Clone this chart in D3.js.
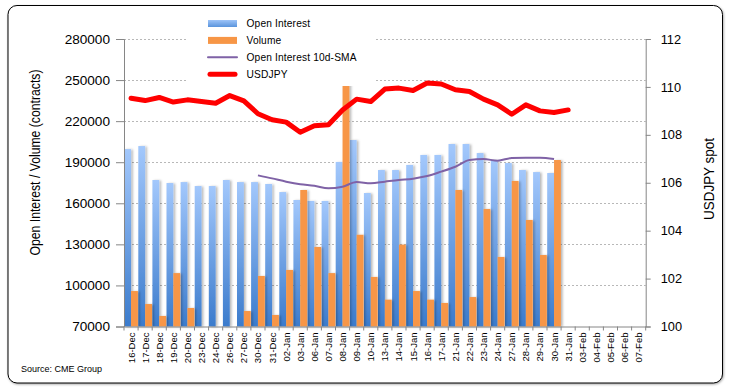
<!DOCTYPE html>
<html>
<head>
<meta charset="utf-8">
<script src="https://cdn.jsdelivr.net/npm/d3@7"></script>
<style>
  html, body { margin: 0; padding: 0; background: #fff; }
  svg { display: block; font-family: "Liberation Sans", Arial, sans-serif; }
  .grid line { stroke: #b8b8b8; stroke-dasharray: 2 2; }
  .axis path, .axis line { stroke: #868686; }
  .axis text { fill: #000; }
</style>
</head>
<body>
<svg id="chart" width="730" height="392"></svg>
<script>
// trading days on the category axis
const dates = ["16-Dec", "17-Dec", "18-Dec", "19-Dec", "20-Dec", "23-Dec", "24-Dec", "26-Dec", "27-Dec", "30-Dec", "31-Dec",
  "02-Jan", "03-Jan", "06-Jan", "07-Jan", "08-Jan", "09-Jan", "10-Jan", "13-Jan", "14-Jan", "15-Jan", "16-Jan", "17-Jan",
  "21-Jan", "22-Jan", "23-Jan", "24-Jan", "27-Jan", "28-Jan", "29-Jan", "30-Jan", "31-Jan",
  "03-Feb", "04-Feb", "05-Feb", "06-Feb", "07-Feb"];

// contracts, 16-Dec .. 30-Jan
const openInterest = [199600, 201800, 177000, 174800, 175500, 172600, 172600, 177000, 175500, 175500, 174100,
  168200, 162400, 161700, 161700, 190200, 206200, 167500, 184300, 184300, 188000, 195300, 195300,
  203300, 203300, 196700, 191600, 189400, 184300, 182800, 182100];
// volume below the axis floor on the holiday days
const volume = [95900, 86400, 77700, 109000, 83500, null, null, null, 81300, 106900, 78400,
  111300, 169700, 128100, 109000, 248000, 137000, 106200, 89600, 129800, 95900, 89600, 87200,
  169700, 91500, 155800, 120800, 176300, 147800, 122200, 191600];
// 10-day SMA of open interest, from 30-Dec
const smaStart = 9;
const oiSma = [180400, 178200, 175800, 173900, 172800, 170900, 172100, 175500, 174600, 175800, 177000,
  178000, 179900, 183100, 186700, 191600, 192300, 191100, 193100, 193300, 193300, 192300];
// spot, 16-Dec .. 31-Jan
const usdjpy = [109.53, 109.43, 109.56, 109.37, 109.46, 109.39, 109.32, 109.64, 109.42, 108.88, 108.63,
  108.53, 108.11, 108.38, 108.42, 109.04, 109.49, 109.39, 109.91, 109.95, 109.85, 110.16, 110.12,
  109.88, 109.81, 109.49, 109.25, 108.86, 109.25, 109.0, 108.93, 109.04];

const leftTicks = [70000, 100000, 130000, 160000, 190000, 220000, 250000, 280000];
const rightTicks = [100, 102, 104, 106, 108, 110, 112];

const svg = d3.select("#chart");
const plot = { left: 124, right: 645.7, top: 39, bottom: 326.5 };

const defs = svg.append("defs");
const grad = defs.append("linearGradient")
  .attr("id", "oiGrad")
  .attr("x1", 0).attr("y1", 0).attr("x2", 0).attr("y2", 1);
grad.append("stop").attr("offset", "0%").attr("stop-color", "#a3c8fc");
grad.append("stop").attr("offset", "100%").attr("stop-color", "#3b7bcc");

const shadow = defs.append("filter").attr("id", "shadow")
  .attr("x", "-50%").attr("y", "-10%").attr("width", "200%").attr("height", "120%");
shadow.append("feDropShadow")
  .attr("dx", 1.8).attr("dy", 0.5).attr("stdDeviation", 0.9)
  .attr("flood-color", "#000").attr("flood-opacity", 0.28);

const frameShadow = defs.append("filter").attr("id", "frameShadow");
frameShadow.append("feDropShadow")
  .attr("dx", 0.8).attr("dy", 1).attr("stdDeviation", 0.8)
  .attr("flood-color", "#000").attr("flood-opacity", 0.35);

// outer frame
svg.append("rect")
  .attr("x", 8).attr("y", 5.5)
  .attr("width", 714.5).attr("height", 377.5)
  .attr("rx", 9)
  .attr("fill", "#fff")
  .attr("stroke", "#000")
  .attr("stroke-width", 1)
  .attr("filter", "url(#frameShadow)");

// scales
const x = d3.scaleBand().domain(dates).range([plot.left, plot.right]);
const sub = d3.scaleBand().domain(["oi", "vol"]).range([0, x.bandwidth()]).paddingOuter(0.03);
const yLeft = d3.scaleLinear().domain([70000, 280000]).range([plot.bottom, plot.top]).clamp(true);
const yRight = d3.scaleLinear().domain([100, 112]).range([plot.bottom, plot.top]);

// gridlines
svg.append("g").attr("class", "grid")
  .selectAll("line")
  .data(leftTicks.slice(1))
  .join("line")
  .attr("x1", plot.left).attr("x2", plot.right)
  .attr("y1", d => Math.round(yLeft(d)) + 0.5)
  .attr("y2", d => Math.round(yLeft(d)) + 0.5);

// bars
const oiData = openInterest.map((v, i) => ({ d: dates[i], v }));
const volData = volume.map((v, i) => ({ d: dates[i], v })).filter(o => o.v !== null);

svg.append("g")
  .attr("filter", "url(#shadow)")
  .selectAll("rect")
  .data(oiData)
  .join("rect")
  .attr("x", o => x(o.d) + sub("oi"))
  .attr("width", sub.bandwidth())
  .attr("y", o => yLeft(o.v))
  .attr("height", o => plot.bottom - yLeft(o.v))
  .attr("fill", "url(#oiGrad)");

svg.append("g")
  .attr("filter", "url(#shadow)")
  .selectAll("rect")
  .data(volData)
  .join("rect")
  .attr("x", o => x(o.d) + sub("vol"))
  .attr("width", sub.bandwidth())
  .attr("y", o => yLeft(o.v))
  .attr("height", o => plot.bottom - yLeft(o.v))
  .attr("fill", "#f79646");

// lines
const cx = d => x(d) + x.bandwidth() / 2;

svg.append("path")
  .datum(oiSma.map((v, i) => ({ d: dates[smaStart + i], v })))
  .attr("fill", "none")
  .attr("stroke", "#7f62a6")
  .attr("stroke-width", 2)
  .attr("stroke-linejoin", "round")
  .attr("d", d3.line().x(o => cx(o.d)).y(o => yLeft(o.v)).curve(d3.curveMonotoneX));

svg.append("path")
  .datum(usdjpy.map((v, i) => ({ d: dates[i], v })))
  .attr("fill", "none")
  .attr("stroke", "#ff0000")
  .attr("stroke-width", 5)
  .attr("stroke-linejoin", "round")
  .attr("stroke-linecap", "round")
  .attr("d", d3.line().x(o => cx(o.d)).y(o => yRight(o.v)));

// axes
const gl = svg.append("g").attr("class", "axis")
  .attr("transform", `translate(${plot.left},0)`)
  .call(d3.axisLeft(yLeft).tickValues(leftTicks).tickSize(8).tickPadding(6).tickFormat(d3.format("d")));
gl.selectAll("text").attr("font-size", 13.6).attr("font-family", "Liberation Sans");

const gr = svg.append("g").attr("class", "axis")
  .attr("transform", `translate(${plot.right},0)`)
  .call(d3.axisRight(yRight).tickValues(rightTicks).tickSize(5).tickPadding(10));
gr.selectAll("text").attr("font-size", 12.8).attr("font-family", "Liberation Sans");

const gx = svg.append("g").attr("class", "axis")
  .attr("transform", `translate(0,${plot.bottom})`)
  .call(d3.axisBottom(x).tickSize(0).tickPadding(0));
gx.selectAll(".tick text")
  .attr("font-size", 9.5)
  .attr("text-anchor", "end")
  .attr("dy", null)
  .attr("transform", "translate(3.5,6) rotate(-90)");
// tick marks between categories
gx.selectAll(".sep")
  .data(dates.concat([null]))
  .join("line")
  .attr("class", "sep")
  .attr("x1", (d, i) => plot.left + i * x.step())
  .attr("x2", (d, i) => plot.left + i * x.step())
  .attr("y1", 0).attr("y2", 4);

// axis titles
svg.append("text")
  .attr("transform", `translate(40,162.5) rotate(-90)`)
  .attr("text-anchor", "middle")
  .attr("font-size", 14)
  .attr("textLength", 186)
  .attr("lengthAdjust", "spacingAndGlyphs")
  .text("Open Interest / Volume (contracts)");

svg.append("text")
  .attr("transform", `translate(714,179) rotate(-90)`)
  .attr("text-anchor", "middle")
  .attr("font-size", 14)
  .attr("textLength", 82)
  .attr("lengthAdjust", "spacingAndGlyphs")
  .text("USDJPY spot");

// legend
const legendItems = [
  { name: "Open Interest", type: "bar", color: "url(#legGrad)" },
  { name: "Volume", type: "bar", color: "#f79646" },
  { name: "Open Interest 10d-SMA", type: "line", color: "#7f62a6", w: 2 },
  { name: "USDJPY", type: "line", color: "#ff0000", w: 5 }
];
const lg = defs.append("linearGradient").attr("id", "legGrad")
  .attr("x1", 0).attr("y1", 0).attr("x2", 0).attr("y2", 1);
lg.append("stop").attr("offset", "0%").attr("stop-color", "#9ec4f8");
lg.append("stop").attr("offset", "100%").attr("stop-color", "#5a94dc");

const legend = svg.append("g");
legend.append("rect")
  .attr("x", 188).attr("y", 12).attr("width", 188).attr("height", 74)
  .attr("fill", "#fff");
const li = legend.selectAll("g.item")
  .data(legendItems)
  .join("g")
  .attr("class", "item")
  .attr("transform", (d, i) => `translate(208,${23.5 + i * 16.9})`);
li.filter(d => d.type === "bar").append("rect")
  .attr("x", 0).attr("y", -3.5).attr("width", 29).attr("height", 7)
  .attr("fill", d => d.color);
li.filter(d => d.type === "line").append("line")
  .attr("x1", d => d.w > 3 ? 2 : 0).attr("x2", d => d.w > 3 ? 27 : 29)
  .attr("stroke", d => d.color)
  .attr("stroke-width", d => d.w)
  .attr("stroke-linecap", "round");
li.append("text")
  .attr("x", 38.5).attr("y", 3.6)
  .attr("font-size", 10.2)
  .attr("letter-spacing", 0.15)
  .text(d => d.name);

// source note
svg.append("text")
  .attr("x", 21).attr("y", 372)
  .attr("font-size", 9)
  .text("Source: CME Group");
</script>
</body>
</html>
